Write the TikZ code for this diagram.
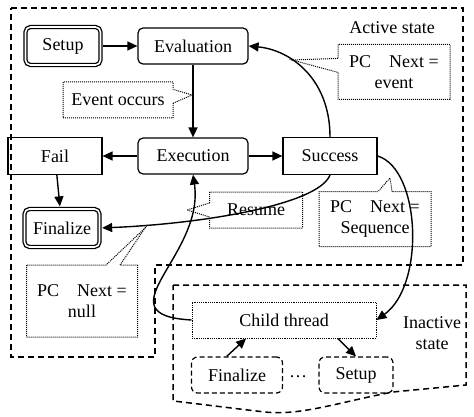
\documentclass[tikz,border=0pt]{standalone}
\usepackage{fontspec}
\setmainfont{Liberation Serif}
\usetikzlibrary{arrows.meta,shapes.callouts}

\begin{document}
\begin{tikzpicture}[x=1pt,y=1pt,>={Triangle[length=10pt,width=9pt]},
                    line width=1.4pt,node distance=137pt,
                    font=\fontsize{18}{21}\selectfont,
                    block/.style={draw,line width=1.2pt,minimum width=94pt,minimum height=37pt},
                    rblock/.style={block,rounded corners=5pt,minimum width=110pt,minimum height=36pt},
                    dblock/.style={draw,line width=1.3pt,double,double distance=1.6pt,
                                   rounded corners=5pt,minimum width=75pt,minimum height=38pt},
                    ghost/.style={draw,line width=1.2pt,dash pattern=on 5pt off 3pt,
                                  rounded corners=6pt,minimum height=36pt},
                    note/.style={rectangle callout,draw,densely dotted,line width=1pt,
                                 callout pointer width=14pt,align=center},
                    region/.style={line width=1.5pt,dash pattern=on 6pt off 4pt}]
  \useasboundingbox (0,0) rectangle (474,-417);
  % \tikzstyle{region}=[dashed]

  % active and inactive areas
  \draw[region] (11,-8) -- (463,-8) -- (463,-265) -- (155,-265) -- (155,-357)
                -- (11,-357) -- cycle;
  \draw[region] (173,-285) -- (466,-285) -- (466,-385) -- (393,-392)
                .. controls (340,-402) and (300,-416) .. (265,-412)
                .. controls (230,-408) and (200,-404) .. (173,-401) -- cycle;
  \node         (act)   at (392,-28)            {Active state};
  \node[align=center] (inact) at (432,-333)     {Inactive\\state};

  \node[rblock] (E) at (193,-46)                  {Evaluation};
  \node[dblock] (S) [left of=E,node distance=130pt] {Setup};
  \node[rblock] (X) at (193,-156)                 {Execution};
  \node[block]  (F) [left of=X,node distance=138pt] {Fail};
  \node[block]  (U) [right of=X]                  {Success};
  \node[dblock] (Z) at (62,-228)                  {Finalize};
  \node[block,densely dotted,line width=1pt,minimum width=184pt,minimum height=36pt]
                (C) at (284,-320)                 {Child thread};
  \node[ghost,minimum width=91pt] (f) at (237,-375) {Finalize};
  \node[ghost,minimum width=74pt] (s) at (356,-375) {Setup};
  \node         (dots) at (298,-377)              {\dots};

  \node[note,minimum width=110pt,minimum height=36pt,
        callout absolute pointer={(192,-95)}]  (ev) at (118,-100) {Event occurs};
  \node[note,minimum width=112pt,minimum height=55pt,
        callout absolute pointer={(292,-60)}]  (pe) at (394,-72)  {PC\quad Next =\\event};
  \node[note,minimum width=93pt,minimum height=36pt,
        callout absolute pointer={(187,-210)}] (rs) at (256,-210) {Resume};
  \node[note,minimum width=112pt,minimum height=55pt,
        callout absolute pointer={(390,-178)}] (ps) at (375,-219) {PC\quad Next =\\Sequence};
  \node[note,minimum width=111pt,minimum height=72pt,
        callout absolute pointer={(145,-228)}] (pn) at (82,-301)  {PC\quad Next =\\null};

  \draw[->,shorten <=2pt] (S) -- (E);
  \draw[->] (E) -- (X);
  \draw[->] (X) -- (F);
  \draw[->] (X) -- (U);
  \draw[->,shorten >=2pt] (F) -- (Z);
  \draw[->] (U.north) .. controls +(0,58) and +(42,-4) .. (E.east);
  \draw[->,shorten >=2pt] (U.south) .. controls +(-12,-30) and +(100,4) .. (Z.east);
  \draw[->] (U.east) .. controls +(43,-13) and +(49,35) .. (C.east);
  \draw[->] (C.west) .. controls +(-92,5) and +(12,-81) .. (X.south);
  \draw[->] (f.119) -- (C.206);
  \draw[->] (C.-19) -- (s.north);
\end{tikzpicture}
\end{document}
